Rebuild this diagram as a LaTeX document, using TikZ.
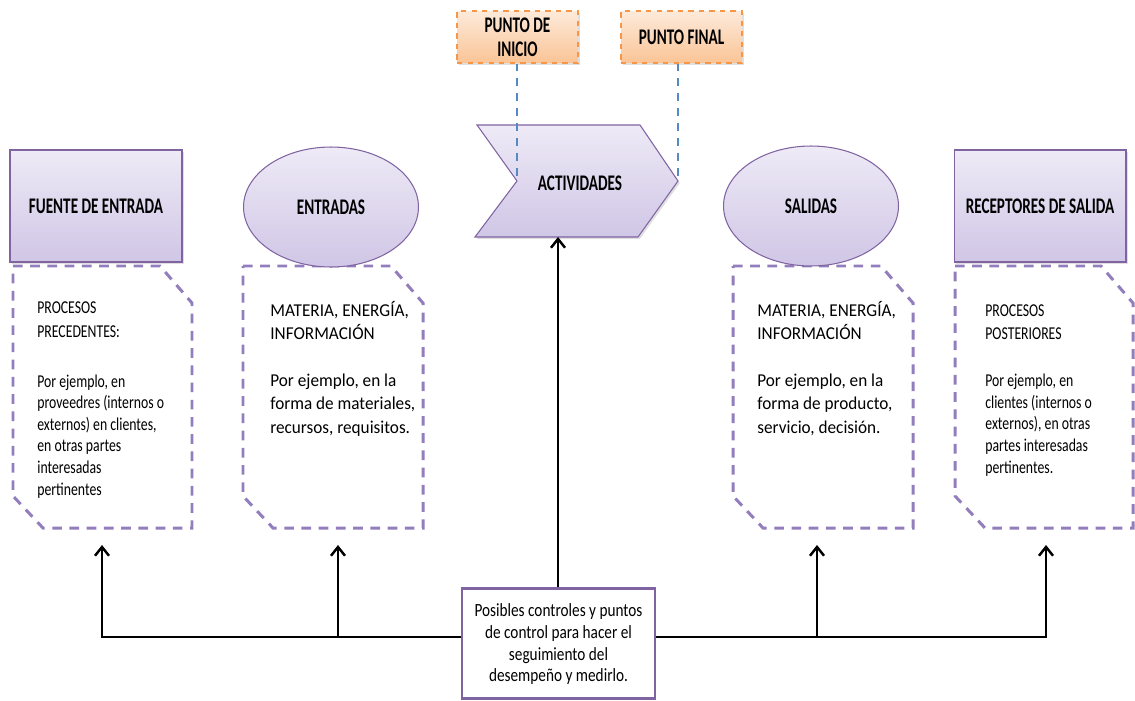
\documentclass[tikz,border=0pt]{standalone}
\usepackage{fontspec}
\setmainfont{Carlito}
\newfontfamily\letraA[FakeStretch=0.76]{Carlito}
\newfontfamily\letraB[FakeStretch=0.95]{Carlito}
\newfontfamily\letraC[FakeStretch=0.82]{Carlito}
\newfontfamily\letraT[FakeStretch=0.68]{Carlito}
\usetikzlibrary{shapes.geometric,arrows.meta,shadows}

\definecolor{lila}{RGB}{128,100,162}
\definecolor{lilaclaro}{RGB}{238,234,246}
\definecolor{lilaoscuro}{RGB}{208,198,230}
\definecolor{lilaraya}{RGB}{146,126,188}
\definecolor{naranja}{RGB}{247,150,70}
\definecolor{naranjaclaro}{RGB}{253,234,218}
\definecolor{naranjaoscuro}{RGB}{250,196,150}
\definecolor{azulraya}{RGB}{84,137,196}

\tikzset{
  titulo/.style={font=\letraT\bfseries\fontsize{12.7}{13.5}\selectfont},
  relleno/.style={draw=lila,line width=.6pt,top color=lilaclaro,bottom color=lilaoscuro},
  sombra/.style={drop shadow={opacity=.25,shadow xshift=1pt,shadow yshift=-1.2pt}},
  caja/.style={relleno,sombra,titulo,rectangle,minimum width=3.44cm,minimum height=2.24cm},
  ovalo/.style={relleno,titulo,ellipse,minimum width=3.5cm,minimum height=2.4cm},
  punto/.style={titulo,draw=naranja,dashed,line width=.6pt,top color=naranjaclaro,bottom color=naranjaoscuro,
    sombra,minimum width=2.42cm,minimum height=1.04cm,align=center,inner sep=1pt},
  marco/.style={draw=lilaraya,line width=1.7pt,dash pattern=on 5.5pt off 4.3pt},
  texto/.style={anchor=north west,inner sep=0pt,align=left},
  textoA/.style={texto,font=\letraA\fontsize{10.3}{12.3}\selectfont},
  textoB/.style={texto,font=\letraB\fontsize{10.3}{13.3}\selectfont},
  flecha/.style={line width=1.6pt,-{Straight Barb[length=5pt,width=8pt,line width=1.4pt]}},
  guia/.style={draw=azulraya,line width=1.3pt,dash pattern=on 4.5pt off 4pt}
}

\begin{document}
\begin{tikzpicture}[x=0.02cm,y=-0.02cm]
\useasboundingbox (0,0) rectangle (1135,700);

% marcos punteados
\foreach \l/\r in {13/192,243/423,733/913,955/1133}
  \draw[marco] (\l,266)--(\r-32,266)--(\r,303)--(\r,528)--(\l+30,528)--(\l,496)--cycle;

\node[caja] (fuente) at (96,206) {FUENTE DE ENTRADA};
\node[ovalo] (entradas) at (331,207) {ENTRADAS};
\node[ovalo] (salidas) at (811,206) {SALIDAS};
\node[caja] (receptores) at (1040,206) {RECEPTORES DE SALIDA};

% actividades
\coordinate (muesca) at (517,181);
\coordinate (punta) at (678,181);
\draw[relleno,sombra] (477,125)--(640,125)--(punta)--(638,237)--(475,237)--(muesca)--cycle;
\node[titulo] (act) at (580,183) {ACTIVIDADES};
\coordinate (actpie) at (558,237);

\node[punto] (inicio) at (517.5,37) {PUNTO DE\\INICIO};
\node[punto] (final) at (681.5,37) {PUNTO FINAL};
\draw[guia] (inicio.south-|muesca) -- (muesca);
\draw[guia] (final.south-|punta) -- (punta);

\node[textoA] (t1) at (37,301) {PROCESOS\\[1.5pt]PRECEDENTES:\\[16pt]Por ejemplo, en\\proveedres (internos o\\externos) en clientes,\\en otras partes\\interesadas\\pertinentes};
\node[textoB] (t2) at (270,301) {MATERIA, ENERGÍA,\\INFORMACIÓN\\[13.3pt]Por ejemplo, en la\\forma de materiales,\\recursos, requisitos.};
\node[textoB] (t4) at (757,301) {MATERIA, ENERGÍA,\\INFORMACIÓN\\[13.3pt]Por ejemplo, en la\\forma de producto,\\servicio, decisión.};
\node[textoA] (t5) at (985,304) {PROCESOS\\[1pt]POSTERIORES\\[14.5pt]Por ejemplo, en\\clientes (internos o\\externos), en otras\\partes interesadas\\pertinentes.};

% controles
\node[draw=lila,line width=1.2pt,fill=white,minimum width=3.86cm,minimum height=2.2cm,align=center,
  font=\letraC\fontsize{10.6}{12.3}\selectfont] (ctrl) at (558.5,643.5)
  {\vphantom{Ap}\\[-10.8pt]Posibles controles y puntos\\de control para hacer el\\seguimiento del\\desempeño y medirlo.};

\foreach \x [count=\i] in {102,338,817,1046}{
  \coordinate (pie\i) at (\x,637);
  \coordinate (tope\i) at (\x,545);
}
\draw[flecha] (ctrl.west|-pie1) -- (pie1) -- (tope1);
\draw[flecha] (pie2) -- (tope2);
\draw[flecha] (ctrl.east|-pie4) -- (pie4) -- (tope4);
\draw[flecha] (pie3) -- (tope3);
\draw[flecha] (ctrl.north-|actpie) -- (actpie);
\end{tikzpicture}
\end{document}
